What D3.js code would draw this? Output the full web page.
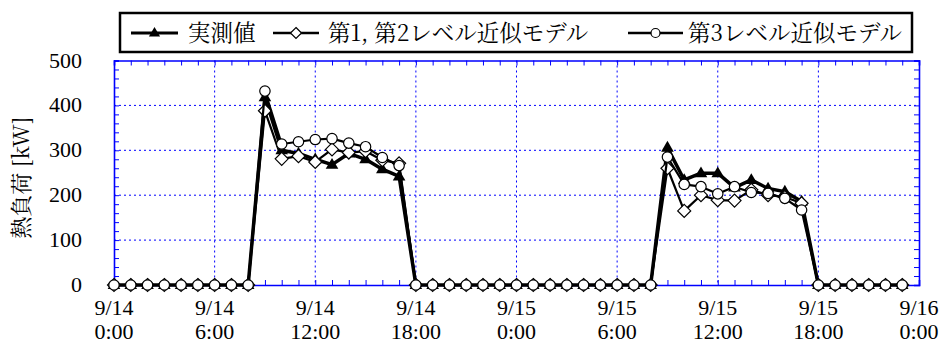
<!DOCTYPE html>
<html><head><meta charset="utf-8">
<script src="https://cdn.jsdelivr.net/npm/d3@7"></script>
<style>
html,body{margin:0;padding:0;background:#fff;}
svg{display:block;}
</style></head>
<body><svg id="c" width="944" height="345"></svg>
<script>
// ---- data ----
const hours = d3.range(0, 48);
const measured = [0,0,0,0,0,0,0,0,0, 418,300,293,280,268,293,280,258,242,
  0,0,0,0,0,0,0,0,0,0,0,0,0,0,0, 306,234,249,249,217,234,215,208,186, 0,0,0,0,0,0];
const model12 = [0,0,0,0,0,0,0,0,0, 388,281,287,274,302,295,298,278,271,
  0,0,0,0,0,0,0,0,0,0,0,0,0,0,0, 260,165,200,189,188,212,200,196,182, 0,0,0,0,0,0];
const model3 = [0,0,0,0,0,0,0,0,0, 432,314,319,324,326,316,308,284,266,
  0,0,0,0,0,0,0,0,0,0,0,0,0,0,0, 285,224,219,203,219,206,204,193,167, 0,0,0,0,0,0];
const seriesNames = ["実測値", "第1, 第2レベル近似モデル", "第3レベル近似モデル"];
const xTickHours = [0,6,12,18,24,30,36,42,48];
const xTickDates = ["9/14","9/14","9/14","9/14","9/15","9/15","9/15","9/15","9/16"];
const xTickTimes = ["0:00","6:00","12:00","18:00","0:00","6:00","12:00","18:00","0:00"];
const yTicks = [0,100,200,300,400,500];
const yLabel = "熱負荷 [kW]";

// ---- layout ----
const svg = d3.select("#c");
const NUMFONT = '"Liberation Serif"';
const JPFONT = '"Noto Serif CJK JP"';
const L = 114, R = 919, T = 60.5, B = 285;
const x = d3.scaleLinear().domain([0,48]).range([L,R]);
const y = d3.scaleLinear().domain([0,500]).range([B,T]);
const blue = "#0000ff";

// grid
const g = svg.append("g");
g.selectAll(".vg").data(xTickHours.filter(h=>h>0&&h<48)).enter().append("line")
  .attr("x1",d=>x(d)).attr("x2",d=>x(d)).attr("y1",T).attr("y2",B)
  .attr("stroke",blue).attr("stroke-width",1).attr("stroke-dasharray","2,3");
g.selectAll(".hg").data(yTicks.filter(v=>v>0&&v<500)).enter().append("line")
  .attr("x1",L).attr("x2",R).attr("y1",d=>y(d)).attr("y2",d=>y(d))
  .attr("stroke",blue).attr("stroke-width",1).attr("stroke-dasharray","2,3");

// axes (inward ticks)
const minorX = d3.range(0,49);
const minorY = d3.range(0,501,20);
const axB = svg.append("g").attr("transform",`translate(0,${B})`)
  .call(d3.axisBottom(x).tickValues(minorX).tickSize(-5).tickFormat(""));
const axT = svg.append("g").attr("transform",`translate(0,${T})`)
  .call(d3.axisTop(x).tickValues(minorX).tickSize(-5).tickFormat(""));
const axL = svg.append("g").attr("transform",`translate(${L},0)`)
  .call(d3.axisLeft(y).tickValues(minorY).tickSize(-5).tickFormat(""));
const axR = svg.append("g").attr("transform",`translate(${R},0)`)
  .call(d3.axisRight(y).tickValues(minorY).tickSize(-5).tickFormat(""));
[axB,axT,axL,axR].forEach(a=>{
  a.selectAll("path").attr("stroke",blue).attr("stroke-width",1.6);
  a.selectAll("line").attr("stroke",blue).attr("stroke-width",1);
});

// tick labels
svg.selectAll(".yl").data(yTicks).enter().append("text")
  .style("font-family",NUMFONT).style("font-size","22px").style("fill","#000")
  .attr("x",82).attr("y",d=>y(d)+7).attr("text-anchor","end")
  .text(d=>d);
const xl = svg.selectAll(".xl").data(xTickHours).enter().append("text")
  .style("font-family",NUMFONT).style("font-size","22px").style("fill","#000")
  .attr("text-anchor","middle");
xl.append("tspan").attr("x",d=>x(d)).attr("y",315).text((d,i)=>xTickDates[i]);
xl.append("tspan").attr("x",d=>x(d)).attr("y",339).text((d,i)=>xTickTimes[i]);

svg.append("text").style("font-family",JPFONT).style("font-size","22px").style("fill","#000")
  .attr("transform",`translate(29,${(T+B)/2+5}) rotate(-90)`)
  .attr("text-anchor","middle").text(yLabel);

// series
const line = d3.line().x((d,i)=>x(hours[i])).y(d=>y(d));
function triPath(s){const h=s; return `M0,${-h*0.75}L${h*0.7},${h*0.45}L${-h*0.7},${h*0.45}Z`;}
const diaPath = s=>`M0,${-s}L${s},0L0,${s}L${-s},0Z`;

svg.append("path").datum(measured).attr("d",line).attr("fill","none")
  .attr("stroke","#000").attr("stroke-width",3.5).attr("stroke-linejoin","round");
svg.selectAll(".tm").data(measured).enter().append("path")
  .attr("transform",(d,i)=>`translate(${x(hours[i])},${y(d)})`)
  .attr("d",triPath(9)).attr("fill","#000");

svg.append("path").datum(model12).attr("d",line).attr("fill","none")
  .attr("stroke","#000").attr("stroke-width",2.2).attr("stroke-linejoin","round");
svg.selectAll(".dm").data(model12).enter().append("path")
  .attr("transform",(d,i)=>`translate(${x(hours[i])},${y(d)})`)
  .attr("d",diaPath(6.5)).attr("fill","#fff").attr("stroke","#000").attr("stroke-width",1.2);

svg.append("path").datum(model3).attr("d",line).attr("fill","none")
  .attr("stroke","#000").attr("stroke-width",2.2).attr("stroke-linejoin","round");
svg.selectAll(".cm").data(model3).enter().append("circle")
  .attr("cx",(d,i)=>x(hours[i])).attr("cy",d=>y(d)).attr("r",5.2)
  .attr("fill","#fff").attr("stroke","#000").attr("stroke-width",1.2);

// legend
const lg = svg.append("g");
lg.append("rect").attr("x",120).attr("y",13).attr("width",792).attr("height",39)
  .attr("fill","#fff").attr("stroke","#000").attr("stroke-width",2.5);
const items = [
  {x1:131,x2:178,tx:188,mark:"tri"},
  {x1:273,x2:319,tx:328,mark:"dia"},
  {x1:628,x2:683,tx:688,mark:"cir"}
];
items.forEach((it,i)=>{
  const cy = 33, cx=(it.x1+it.x2)/2;
  lg.append("line").attr("x1",it.x1).attr("x2",it.x2).attr("y1",cy).attr("y2",cy)
    .attr("stroke","#000").attr("stroke-width",i===0?3:2.5);
  if(it.mark==="tri") lg.append("path").attr("transform",`translate(${cx},${cy})`).attr("d",triPath(8)).attr("fill","#000");
  if(it.mark==="dia") lg.append("path").attr("transform",`translate(${cx},${cy})`).attr("d",diaPath(5.5)).attr("fill","#fff").attr("stroke","#000").attr("stroke-width",1.2);
  if(it.mark==="cir") lg.append("circle").attr("cx",cx).attr("cy",cy).attr("r",4.5).attr("fill","#fff").attr("stroke","#000").attr("stroke-width",1.2);
  lg.append("text").style("font-family",JPFONT).style("font-size","22.5px").style("fill","#000")
    .attr("x",it.tx).attr("y",cy+8).text(seriesNames[i]);
});
</script></body></html>
